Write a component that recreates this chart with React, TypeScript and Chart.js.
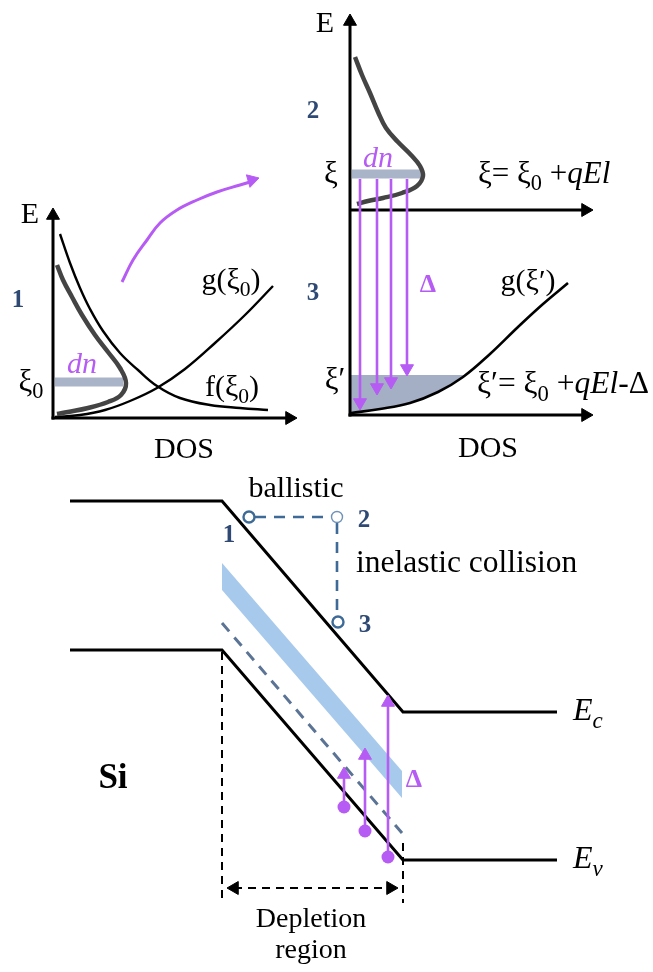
import React, { useEffect, useRef } from "react";
import { Chart, registerables } from "chart.js";
Chart.register(...registerables);

type P = { x: number; y: number };
type Seg = [string, string?];
interface Label { segs: Seg[]; x: number; y: number; size: number; color?: string; align?: "left" | "center"; }

const BLACK = "#000000";
const GREY = "#444444";
const BAND = "#a9b4c8";
const PURPLE = "#b65cf4";
const NAVY = "#2e4a74";
const PATH = "#3d6a96";
const SKY = "#a7c9ec";
const LEVEL = "#5b7495";
const SHADE = "#a4aec4";

// ---------- Panel 1 (top-left): state at ξ0 ----------
const p1AxisE: P[] = [{ x: 53, y: 419.5 }, { x: 53, y: 215 }];
const p1AxisDos: P[] = [{ x: 51.5, y: 418 }, { x: 290, y: 418 }];
const p1F: P[] = [
  { x: 60, y: 234 }, { x: 70, y: 263 }, { x: 80, y: 288 }, { x: 90, y: 309 }, { x: 103, y: 331 },
  { x: 120, y: 353 }, { x: 138, y: 370 }, { x: 157, y: 386 }, { x: 180, y: 398 }, { x: 210, y: 405 },
  { x: 240, y: 408 }, { x: 268, y: 410 },
];
const p1G: P[] = [
  { x: 55, y: 417 }, { x: 80, y: 415 }, { x: 105, y: 410 }, { x: 130, y: 401 }, { x: 157, y: 388 },
  { x: 185, y: 369 }, { x: 215, y: 343 }, { x: 245, y: 315 }, { x: 273, y: 286 },
];
const p1N: P[] = [
  { x: 57, y: 265 }, { x: 63, y: 280 }, { x: 72, y: 297 }, { x: 82, y: 315 }, { x: 95, y: 335 },
  { x: 108, y: 352 }, { x: 120, y: 368 }, { x: 126, y: 383 }, { x: 121, y: 395 }, { x: 108, y: 402 },
  { x: 88, y: 408 }, { x: 68, y: 412 }, { x: 57, y: 414 },
];
const p1Band: P[] = [{ x: 55, y: 382 }, { x: 123, y: 382 }];
const transferArrow: P[] = [
  { x: 122, y: 282 }, { x: 133, y: 260 }, { x: 147, y: 240 }, { x: 160, y: 223 }, { x: 177, y: 210 },
  { x: 197, y: 200 }, { x: 217, y: 192 }, { x: 240, y: 185 }, { x: 250, y: 182 },
];

// ---------- Panels 2 & 3 (top-right) ----------
const p2AxisE: P[] = [{ x: 350, y: 416.5 }, { x: 350, y: 21 }];
const p2AxisMid: P[] = [{ x: 350, y: 210 }, { x: 586, y: 210 }];
const p3AxisDos: P[] = [{ x: 348.5, y: 415 }, { x: 586, y: 415 }];
const p2N: P[] = [
  { x: 355, y: 57 }, { x: 362, y: 75 }, { x: 370, y: 93 }, { x: 378, y: 112 }, { x: 386, y: 128 },
  { x: 398, y: 142 }, { x: 411, y: 155 }, { x: 420, y: 166 }, { x: 423, y: 176 }, { x: 417, y: 186 },
  { x: 402, y: 193 }, { x: 383, y: 198 }, { x: 368, y: 201 }, { x: 357, y: 204 },
];
const p2Band: P[] = [{ x: 352, y: 174 }, { x: 423, y: 174 }];
const p3G: P[] = [
  { x: 351, y: 413 }, { x: 380, y: 409 }, { x: 410, y: 403 }, { x: 438, y: 392 }, { x: 463, y: 377 },
  { x: 490, y: 354 }, { x: 518, y: 327 }, { x: 543, y: 304 }, { x: 568, y: 283 },
];
const p3ShadeTop: P[] = [{ x: 351, y: 375 }, { x: 465, y: 375 }];
const relaxX = [360, 377, 391, 407];
const relaxFrom = [179, 179, 179, 179];
const relaxTip = [410, 395, 389, 376];

// ---------- Band diagram ----------
const ecLine: P[] = [{ x: 70, y: 501 }, { x: 222, y: 501 }, { x: 403, y: 712 }, { x: 557, y: 712 }];
const evLine: P[] = [{ x: 70, y: 650 }, { x: 222, y: 650 }, { x: 403, y: 860 }, { x: 557, y: 860 }];
const skyTop: P[] = [{ x: 222, y: 563 }, { x: 402, y: 771 }];
const skyBottom: P[] = [{ x: 222, y: 590 }, { x: 402, y: 798 }];
const trapLevel: P[] = [{ x: 222, y: 623 }, { x: 402, y: 833 }];
const depLeft: P[] = [{ x: 222, y: 652 }, { x: 222, y: 903 }];
const depRight: P[] = [{ x: 403, y: 843 }, { x: 403, y: 903 }];
const depArrow: P[] = [{ x: 234, y: 888 }, { x: 391, y: 888 }];
const ballisticH: P[] = [{ x: 255, y: 517 }, { x: 331, y: 517 }];
const ballisticV: P[] = [{ x: 337, y: 523 }, { x: 337, y: 616 }];
const states: P[] = [{ x: 249, y: 517 }, { x: 337, y: 517 }, { x: 338, y: 622 }];
const exciteX = [344, 365, 388];
const exciteFrom = [807, 831, 857];
const exciteTip = [767, 748, 695];

// arrowheads (tip, rotation in degrees)
const blackTips: P[] = [
  { x: 53, y: 208 }, { x: 297, y: 418 }, { x: 350, y: 14 }, { x: 593, y: 210 }, { x: 593, y: 415 },
  { x: 227, y: 888 }, { x: 398, y: 888 },
];
const blackRot = [0, 90, 0, 90, 90, 270, 90];
const purpleTips: P[] = [
  { x: 259, y: 178 },
  ...relaxX.map((x, i) => ({ x, y: relaxTip[i] })),
  ...exciteX.map((x, i) => ({ x, y: exciteTip[i] })),
];
const purpleRot = [74, 180, 180, 180, 180, 0, 0, 0];

const labels: Label[] = [
  { segs: [["E"]], x: 30, y: 223, size: 30 },
  { segs: [["1", "B"]], x: 18, y: 307, size: 25, color: NAVY },
  { segs: [["ξ"], ["0", "S"]], x: 31, y: 391, size: 31 },
  { segs: [["dn", "I"]], x: 82, y: 373, size: 30, color: PURPLE },
  { segs: [["g(ξ"], ["0", "S"], [")"]], x: 231, y: 289, size: 30 },
  { segs: [["f(ξ"], ["0", "S"], [")"]], x: 232, y: 396, size: 30 },
  { segs: [["DOS"]], x: 184, y: 458, size: 30 },
  { segs: [["E"]], x: 325, y: 32, size: 30 },
  { segs: [["2", "B"]], x: 313, y: 118, size: 25, color: NAVY },
  { segs: [["ξ"]], x: 331, y: 183, size: 31 },
  { segs: [["dn", "I"]], x: 378, y: 167, size: 30, color: PURPLE },
  { segs: [["ξ= ξ"], ["0", "S"], [" +"], ["qEl", "I"]], x: 478, y: 183, size: 31, align: "left" },
  { segs: [["3", "B"]], x: 313, y: 300, size: 25, color: NAVY },
  { segs: [["Δ", "B"]], x: 428, y: 292, size: 26, color: PURPLE },
  { segs: [["g(ξ′)"]], x: 528, y: 290, size: 30 },
  { segs: [["ξ′"]], x: 335, y: 389, size: 31 },
  { segs: [["ξ′= ξ"], ["0", "S"], [" +"], ["qEl", "I"], ["-Δ"]], x: 477, y: 393, size: 31.5, align: "left" },
  { segs: [["DOS"]], x: 488, y: 457, size: 30 },
  { segs: [["ballistic"]], x: 296, y: 497, size: 30 },
  { segs: [["1", "B"]], x: 229, y: 542, size: 25, color: NAVY },
  { segs: [["2", "B"]], x: 364, y: 527, size: 25, color: NAVY },
  { segs: [["3", "B"]], x: 365, y: 632, size: 25, color: NAVY },
  { segs: [["inelastic collision"]], x: 356, y: 572, size: 31.5, align: "left" },
  { segs: [["Si", "B"]], x: 113, y: 788, size: 35 },
  { segs: [["E", "I"], ["c", "SI"]], x: 573, y: 720, size: 32, align: "left" },
  { segs: [["E", "I"], ["v", "SI"]], x: 573, y: 868, size: 32, align: "left" },
  { segs: [["Δ", "B"]], x: 414, y: 787, size: 26, color: PURPLE },
  { segs: [["Depletion"]], x: 311, y: 927, size: 28 },
  { segs: [["region"]], x: 311, y: 958, size: 28 },
];

const FONT = '"Liberation Serif", "Times New Roman", serif';

const labelPlugin = {
  id: "diagramLabels",
  afterDatasetsDraw(chart: any) {
    const { ctx } = chart;
    const xs = chart.scales.x;
    const ys = chart.scales.y;
    ctx.save();
    ctx.textBaseline = "alphabetic";
    ctx.textAlign = "left";
    for (const l of labels) {
      const px = xs.getPixelForValue(l.x);
      const py = ys.getPixelForValue(l.y);
      const parts = l.segs.map(([t, st = ""]) => {
        const sub = st.includes("S");
        const size = sub ? l.size * 0.72 : l.size;
        const font = `${st.includes("I") ? "italic " : ""}${st.includes("B") ? "bold " : ""}${size}px ${FONT}`;
        ctx.font = font;
        return { t, font, w: ctx.measureText(t).width, dy: sub ? l.size * 0.24 : 0 };
      });
      const total = parts.reduce((s, p) => s + p.w, 0);
      let cx = l.align === "left" ? px : px - total / 2;
      ctx.fillStyle = l.color || BLACK;
      for (const p of parts) {
        ctx.font = p.font;
        ctx.fillText(p.t, cx, py + p.dy);
        cx += p.w;
      }
    }
    ctx.restore();
  },
};

function headCenters(tips: P[], rot: number[], r: number): P[] {
  return tips.map((t, i) => {
    const a = (rot[i] * Math.PI) / 180;
    return { x: t.x - r * Math.sin(a), y: t.y + r * Math.cos(a) };
  });
}

function buildDatasets() {
  const ds: any[] = [];
  const line = (data: P[], color: string, width: number, extra: any = {}) =>
    ds.push({
      data, showLine: true, borderColor: color, backgroundColor: color, borderWidth: width,
      pointRadius: 0, tension: 0, fill: false, borderCapStyle: "butt", ...extra,
    });
  const CLEAR = "rgba(0,0,0,0)";
  line(p3ShadeTop, CLEAR, 0, { fill: "+1", backgroundColor: SHADE });
  line(p3G, BLACK, 2.6, { tension: 0.4 });
  line(skyTop, CLEAR, 0, { fill: "+1", backgroundColor: SKY });
  line(skyBottom, CLEAR, 0);
  line(p1Band, BAND, 9);
  line(p2Band, BAND, 9);
  line(trapLevel, LEVEL, 3, { borderDash: [11, 8] });
  line(ecLine, BLACK, 3);
  line(evLine, BLACK, 3);
  line(depLeft, BLACK, 2, { borderDash: [8, 6] });
  line(depRight, BLACK, 2, { borderDash: [8, 6] });
  line(depArrow, BLACK, 2, { borderDash: [8, 6] });
  line(ballisticH, PATH, 2.6, { borderDash: [11, 8] });
  line(ballisticV, PATH, 2.6, { borderDash: [11, 8] });
  line(p1AxisE, BLACK, 3);
  line(p1AxisDos, BLACK, 3);
  line(p2AxisE, BLACK, 3);
  line(p2AxisMid, BLACK, 3);
  line(p3AxisDos, BLACK, 3);
  line(p1F, BLACK, 2.4, { tension: 0.4 });
  line(p1G, BLACK, 2.4, { tension: 0.4 });
  line(p1N, GREY, 4.5, { tension: 0.4 });
  line(p2N, GREY, 4.5, { tension: 0.4 });
  line(transferArrow, PURPLE, 3, { tension: 0.4 });
  relaxX.forEach((x, i) => line([{ x, y: relaxFrom[i] }, { x, y: relaxTip[i] - 6 }], PURPLE, 2.6));
  exciteX.forEach((x, i) => line([{ x, y: exciteFrom[i] }, { x, y: exciteTip[i] + 6 }], PURPLE, 2.6));
  ds.push({
    data: headCenters(blackTips, blackRot, 7.5), showLine: false, pointStyle: "triangle",
    pointRadius: 7.5, pointRotation: blackRot, pointBackgroundColor: BLACK, pointBorderColor: BLACK, pointBorderWidth: 1,
  });
  ds.push({
    data: headCenters(purpleTips, purpleRot, 7.5), showLine: false, pointStyle: "triangle",
    pointRadius: 7.5, pointRotation: purpleRot, pointBackgroundColor: PURPLE, pointBorderColor: PURPLE, pointBorderWidth: 1,
  });
  ds.push({
    data: states, showLine: false, pointStyle: "circle", pointRadius: 5.5,
    pointBackgroundColor: "#ffffff", pointBorderColor: [PATH, "#6f93b8", PATH], pointBorderWidth: [2.4, 1.4, 2.4],
  });
  ds.push({
    data: exciteX.map((x, i) => ({ x, y: exciteFrom[i] })), showLine: false, pointStyle: "circle",
    pointRadius: 6.5, pointBackgroundColor: PURPLE, pointBorderColor: PURPLE, pointBorderWidth: 0,
  });
  const n = ds.length;
  ds.forEach((d, i) => (d.order = n - i));
  return ds;
}

export default function App() {
  const ref = useRef<HTMLCanvasElement | null>(null);
  useEffect(() => {
    if (!ref.current) return;
    const chart = new Chart(ref.current, {
      type: "scatter",
      data: { datasets: buildDatasets() },
      options: {
        responsive: false,
        animation: false,
        events: [],
        layout: { padding: 0, autoPadding: false },
        scales: {
          x: { type: "linear", min: 0, max: 653, display: false },
          y: { type: "linear", min: 0, max: 972, reverse: true, display: false },
        },
        plugins: { legend: { display: false }, tooltip: { enabled: false } },
      } as any,
      plugins: [labelPlugin],
    });
    return () => chart.destroy();
  }, []);
  return (
    <div style={{ position: "absolute", left: 0, top: 0, width: 653, height: 972, background: "#fff" }}>
      <canvas ref={ref} width={653} height={972} style={{ display: "block" }} />
    </div>
  );
}
